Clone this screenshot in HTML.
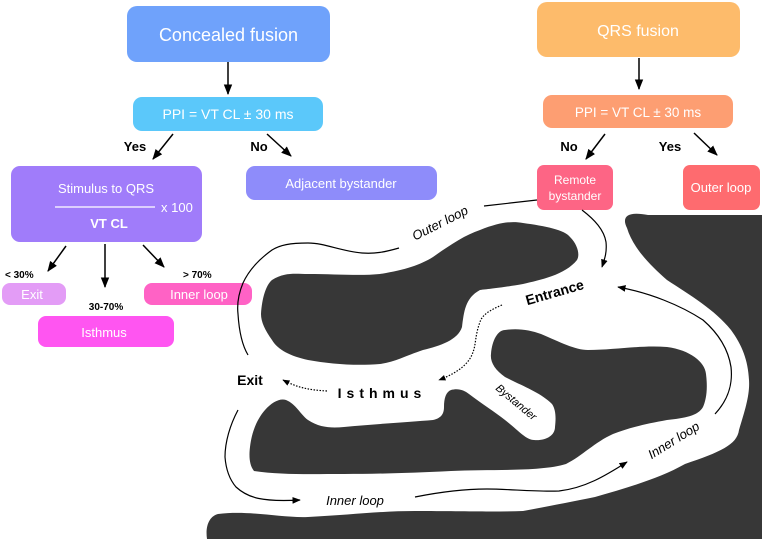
<!DOCTYPE html>
<html><head><meta charset="utf-8"><style>
html,body{margin:0;padding:0;background:#fff;}
svg{display:block;font-family:"Liberation Sans",Arial,sans-serif;}
</style></head><body>
<svg width="762" height="539" viewBox="0 0 762 539" xmlns="http://www.w3.org/2000/svg">
<defs>
<marker id="ah" viewBox="0 0 10 10" refX="9" refY="5" markerWidth="7" markerHeight="7" orient="auto-start-reverse"><path d="M0,1 L10,5 L0,9 z" fill="#000"/></marker>
<marker id="ahs" viewBox="0 0 10 10" refX="9" refY="5" markerWidth="6" markerHeight="6" orient="auto-start-reverse"><path d="M0,1 L10,5 L0,9 z" fill="#000"/></marker>
</defs>
<!-- dark shapes -->
<path fill="#373737" d="M627,228 C620,214 632,212 648,215 L762,215 L762,539 L207,539 C205,525 210,516 218,514 C250,510 280,518 308,517 C350,515 380,511 415,511 C460,511 490,512 523,511 C550,506 570,502 595,497 C630,487 660,478 685,464 C720,452 737,445 739,430 C745,410 750,395 749,380 C748,360 742,345 731,330 C715,310 690,295 667,280 C650,265 633,248 627,228 Z"/>
<path fill="#373737" d="M261,314 C262,298 266,285 272,280 C285,272 295,274 308,274 C335,274 360,276 380,274 C405,270 420,265 433,257 C450,245 465,235 480,230 C500,222 512,221 523,223 C545,226 565,230 570,237 C578,245 580,255 577,260 C565,275 540,280 523,284 C500,288 488,289 480,290 C465,298 464,312 462,327 C458,340 440,346 423,350 C405,356 395,362 380,364 C355,366 330,364 308,360 C290,356 278,350 272,340 C265,330 261,322 261,314 Z"/>
<path fill="#373737" d="M250,447 C252,430 258,418 265,410 C272,402 280,398 286,400 C296,404 300,414 308,420 C320,428 332,428 344,427 C375,424 410,422 433,420 C442,418 444,413 444,407 C444,398 446,392 451,390 C458,388 464,390 469,394 C482,404 495,412 505,420 C518,430 526,440 534,440 C545,441 555,436 555,427 C556,418 556,410 552,404 C540,392 520,385 505,377 C495,370 490,362 491,354 C492,340 498,330 505,330 C518,328 530,330 541,334 C560,342 575,350 588,350 C615,350 640,345 667,347 C690,350 705,362 706,374 C708,390 706,400 703,407 C698,416 685,418 667,420 C645,424 628,428 613,434 C595,442 582,456 566,464 C540,472 490,469 451,471 C410,473 375,474 344,474 C310,474 280,475 254,471 C249,465 249,455 250,447 Z"/>

<!-- top left flow -->
<rect x="127" y="6" width="203" height="56" rx="10" fill="#6fa2fb"/>
<text x="228.5" y="41" font-size="18" fill="#fff" text-anchor="middle">Concealed fusion</text>
<line x1="228" y1="62" x2="228" y2="94" stroke="#000" stroke-width="1.5" marker-end="url(#ah)"/>
<rect x="133" y="97" width="190" height="34" rx="9" fill="#5bc8fa"/>
<text x="228" y="119" font-size="14" fill="#fff" text-anchor="middle">PPI = VT CL ± 30 ms</text>
<line x1="173" y1="134" x2="153" y2="159" stroke="#000" stroke-width="1.5" marker-end="url(#ah)"/>
<line x1="267" y1="134" x2="291" y2="156" stroke="#000" stroke-width="1.5" marker-end="url(#ah)"/>
<text x="135" y="151" font-size="13" font-weight="bold" text-anchor="middle">Yes</text>
<text x="259" y="151" font-size="13" font-weight="bold" text-anchor="middle">No</text>
<rect x="11" y="166" width="191" height="76" rx="9" fill="#a07cfa"/>
<text x="106" y="193" font-size="13" fill="#fff" text-anchor="middle">Stimulus to QRS</text>
<line x1="55" y1="207" x2="155" y2="207" stroke="#fff" stroke-width="1.2"/>
<text x="161" y="212" font-size="13" fill="#fff">x 100</text>
<text x="109" y="228" font-size="13" font-weight="bold" fill="#fff" text-anchor="middle">VT CL</text>
<rect x="246" y="166" width="191" height="34" rx="9" fill="#8e8cfa"/>
<text x="341" y="188" font-size="13" fill="#fff" text-anchor="middle">Adjacent bystander</text>
<line x1="66" y1="246" x2="48" y2="271" stroke="#000" stroke-width="1.5" marker-end="url(#ah)"/>
<line x1="105" y1="244" x2="105" y2="287" stroke="#000" stroke-width="1.5" marker-end="url(#ah)"/>
<line x1="143" y1="245" x2="164" y2="267" stroke="#000" stroke-width="1.5" marker-end="url(#ah)"/>
<text x="5" y="278" font-size="10" font-weight="bold">&lt; 30%</text>
<text x="106" y="310" font-size="10" font-weight="bold" text-anchor="middle">30-70%</text>
<text x="183" y="278" font-size="10" font-weight="bold">&gt; 70%</text>
<rect x="2" y="283" width="64" height="22" rx="8" fill="#e39cf6"/>
<text x="32" y="299" font-size="13" fill="#fff" text-anchor="middle">Exit</text>
<rect x="144" y="283" width="108" height="22" rx="8" fill="#ff62c5"/>
<text x="199" y="299" font-size="13" fill="#fff" text-anchor="middle">Inner loop</text>
<rect x="38" y="316" width="136" height="31" rx="8" fill="#ff55f1"/>
<text x="104" y="337" font-size="13" fill="#fff" text-anchor="middle">Isthmus</text>

<!-- top right flow -->
<rect x="537" y="2" width="203" height="55" rx="10" fill="#fdbb6b"/>
<text x="638" y="36" font-size="16" fill="#fff" text-anchor="middle">QRS fusion</text>
<line x1="639" y1="58" x2="639" y2="89" stroke="#000" stroke-width="1.5" marker-end="url(#ah)"/>
<rect x="543" y="95" width="190" height="33" rx="9" fill="#fd9e72"/>
<text x="638" y="117" font-size="13.5" fill="#fff" text-anchor="middle">PPI = VT CL ± 30 ms</text>
<line x1="605" y1="134" x2="586" y2="159" stroke="#000" stroke-width="1.5" marker-end="url(#ah)"/>
<line x1="694" y1="133" x2="717" y2="155" stroke="#000" stroke-width="1.5" marker-end="url(#ah)"/>
<text x="569" y="151" font-size="13" font-weight="bold" text-anchor="middle">No</text>
<text x="670" y="151" font-size="13" font-weight="bold" text-anchor="middle">Yes</text>
<rect x="537" y="165" width="76" height="45" rx="7" fill="#fd6585"/>
<text x="575" y="184" font-size="12" fill="#fff" text-anchor="middle">Remote</text>
<text x="575" y="200" font-size="12" fill="#fff" text-anchor="middle">bystander</text>
<rect x="683" y="165" width="77" height="45" rx="7" fill="#fe6b6f"/>
<text x="721" y="192" font-size="13" fill="#fff" text-anchor="middle">Outer loop</text>

<!-- loops -->
<g fill="none" stroke="#000" stroke-width="1.2">
<path d="M537,200 L484,206"/>
<path d="M399,248 C385,252 375,254 362,253 C340,251 325,243 308,243 C290,243 280,245 272,250 C258,260 248,272 243,283 C238,295 237,305 238,314 C239,330 242,345 248,355"/>
<path d="M582,210 C595,220 604,230 606,242 C607,252 605,258 602,267" marker-end="url(#ah)"/>
<path d="M238,410 C230,425 225,442 225,457 C226,470 230,480 236,487 C248,498 262,502 300,500" marker-end="url(#ah)"/>
<path d="M415,497 C440,492 465,489 487,489 C510,489 535,492 559,491 C585,488 605,476 627,462" marker-end="url(#ah)"/>
<path d="M715,414 C728,400 733,385 731,367 C728,348 718,333 703,320 C680,305 650,293 618,287" marker-end="url(#ah)"/>
</g>
<g fill="none" stroke="#000" stroke-width="1.2" stroke-dasharray="1.5,1.5">
<path d="M502,305 C490,310 482,315 480,322 C475,335 476,345 473,352 C470,362 460,372 439,380" marker-end="url(#ahs)"/>
<path d="M327,391 C310,390 298,388 283,380" marker-end="url(#ahs)"/>
</g>
<text transform="translate(442,227) rotate(-27)" font-size="13" font-style="italic" text-anchor="middle">Outer loop</text>
<text transform="translate(556,297) rotate(-16)" font-size="14" font-weight="bold" text-anchor="middle">Entrance</text>
<text x="250" y="385" font-size="14" font-weight="bold" text-anchor="middle">Exit</text>
<text x="382" y="398" font-size="14" font-weight="bold" letter-spacing="5" text-anchor="middle">Isthmus</text>
<text transform="translate(514,405) rotate(40)" font-size="11" font-style="italic" text-anchor="middle">Bystander</text>
<text x="355" y="505" font-size="13" font-style="italic" text-anchor="middle">Inner loop</text>
<text transform="translate(676,444) rotate(-32)" font-size="13" font-style="italic" text-anchor="middle">Inner loop</text>
</svg>
</body></html>
